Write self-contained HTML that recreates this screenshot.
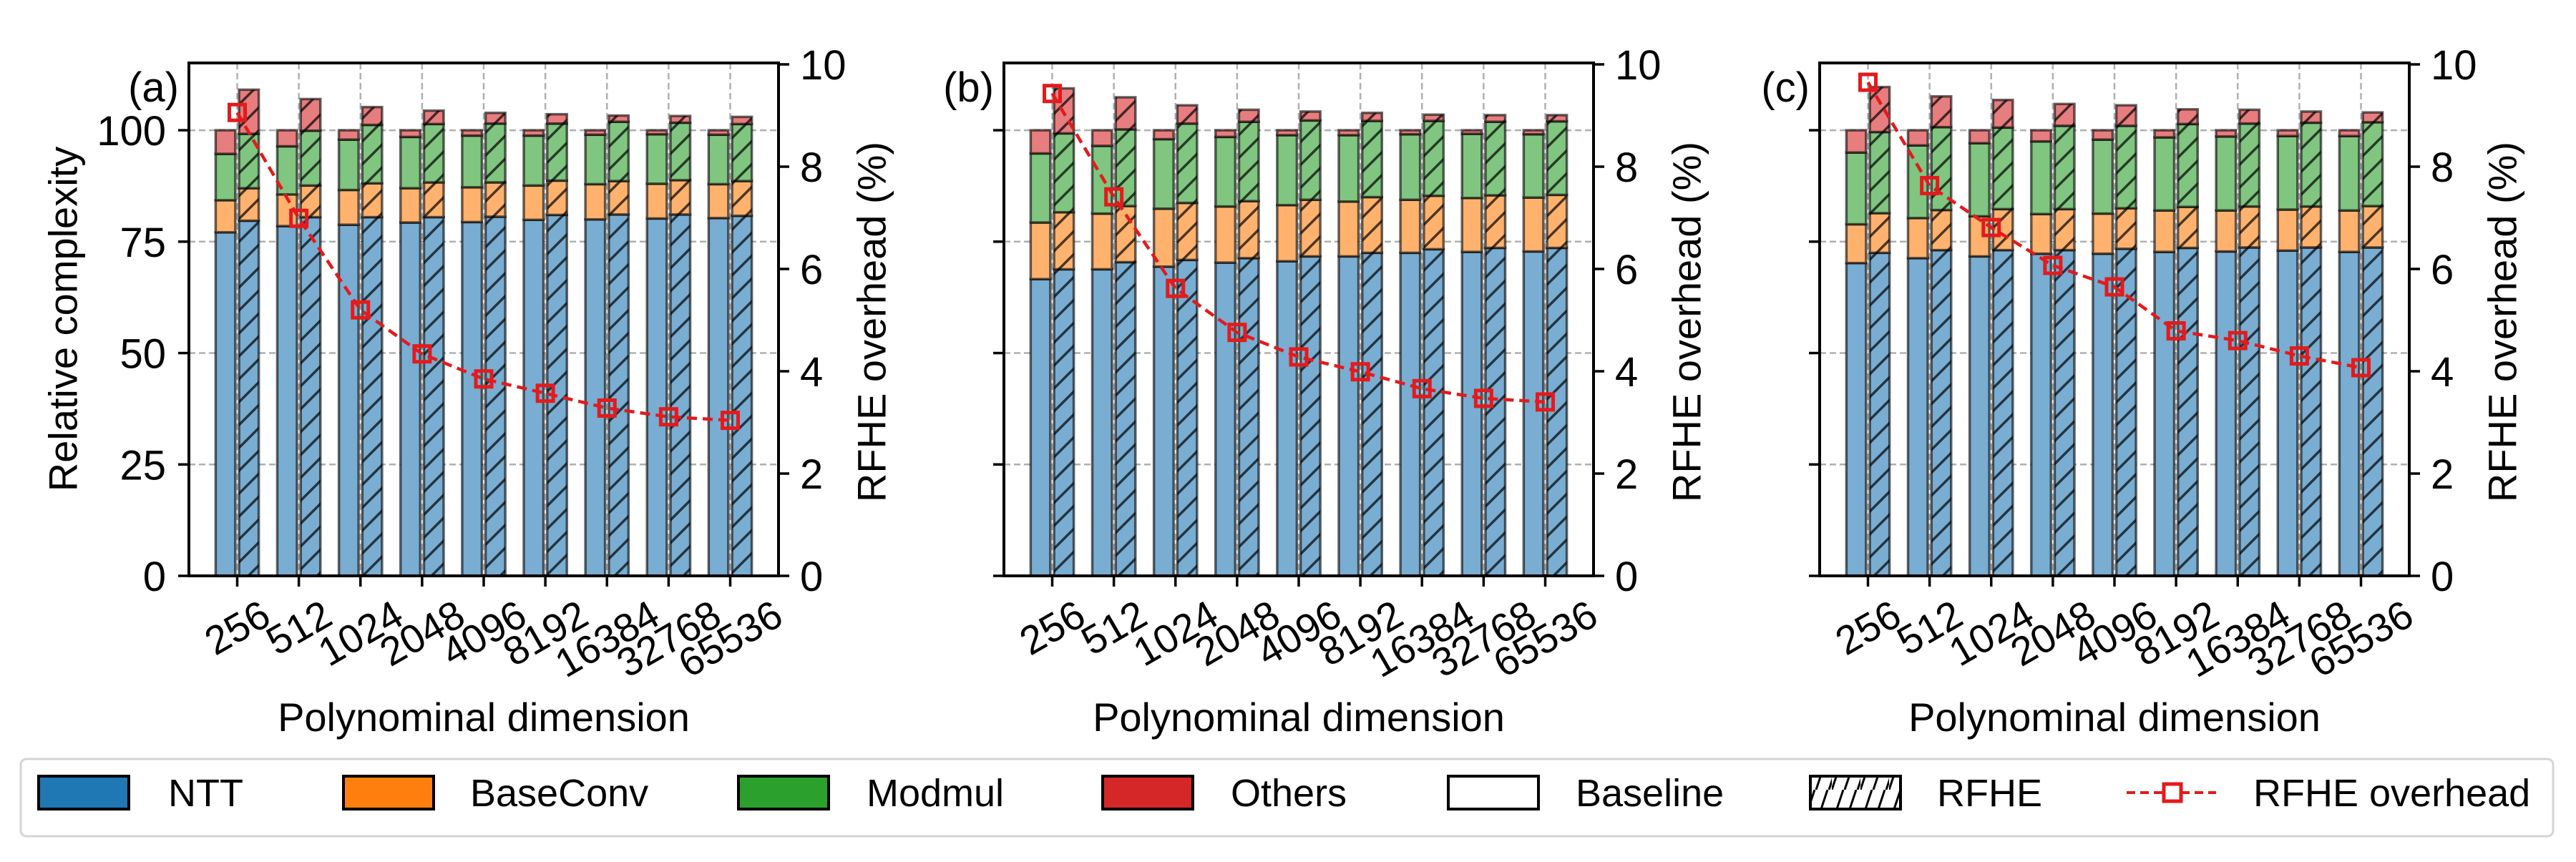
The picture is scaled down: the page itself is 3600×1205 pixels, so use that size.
<!DOCTYPE html>
<html><head><meta charset="utf-8"><style>
html,body{margin:0;padding:0;background:#fff;}
svg text{font-family:"Liberation Sans",sans-serif;fill:#000;}
</style></head><body>
<svg id="chart" xmlns="http://www.w3.org/2000/svg" width="3600" height="1200" viewBox="0 0 3600 1200">
<defs>
<pattern id="hatch" patternUnits="userSpaceOnUse" width="32" height="32">
<path d="M-4,4 L4,-4 M0,32 L32,0 M28,36 L36,28" stroke="rgba(0,0,0,0.7)" stroke-width="3.5"/>
</pattern>
<pattern id="hatchLeg" patternUnits="userSpaceOnUse" width="40" height="48">
<path d="M0,48 L16,0 M18,48 L34,0 M36,48 L52,0" stroke="#000" stroke-width="3"/>
</pattern>
</defs>
<g id="panels"></g>
<g id="legend">
<rect x="29" y="1061" width="3539" height="108" rx="8" fill="#fff" stroke="#d4d4d4" stroke-width="3"/>
<g><rect x="54" y="1085" width="126" height="46" fill="#1f77b4" stroke="#000" stroke-width="4"/><text x="235" y="1127" font-size="54">NTT</text></g>
<g><rect x="480" y="1085" width="126" height="46" fill="#ff7f0e" stroke="#000" stroke-width="4"/><text x="657" y="1127" font-size="54">BaseConv</text></g>
<g><rect x="1032" y="1085" width="126" height="46" fill="#2ca02c" stroke="#000" stroke-width="4"/><text x="1211" y="1127" font-size="54">Modmul</text></g>
<g><rect x="1541" y="1085" width="126" height="46" fill="#d62728" stroke="#000" stroke-width="4"/><text x="1720" y="1127" font-size="54">Others</text></g>
<g><rect x="2024" y="1085" width="126" height="46" fill="#fff" stroke="#000" stroke-width="4"/><text x="2202" y="1127" font-size="54">Baseline</text></g>
<g><rect x="2530" y="1085" width="126" height="46" fill="url(#hatchLeg)" stroke="#000" stroke-width="4"/><text x="2707" y="1127" font-size="54">RFHE</text></g>
<g><line x1="2972" y1="1108" x2="3097" y2="1108" stroke="#e41a1c" stroke-width="4" stroke-dasharray="12,7"/><rect x="3024" y="1096" width="24" height="24" fill="#fff" stroke="#e41a1c" stroke-width="5"/><text x="3149" y="1127" font-size="54">RFHE overhead</text></g>
</g>
</svg>
<script>
const categories = ["256","512","1024","2048","4096","8192","16384","32768","65536"];
const yTicks = [0,25,50,75,100];
const y2Ticks = [0,2,4,6,8,10];
const panelLabels = ["(a)","(b)","(c)"];
// Stack segment heights per bar: NTT, BaseConv, Modmul, Others
const aBaseNTT = [77.1,78.5,78.8,79.3,79.4,79.9,80.0,80.2,80.3];
const aBaseBC  = [7.2,7.1,7.8,7.7,7.8,7.7,7.9,7.8,7.6];
const aBaseMM  = [10.4,10.8,11.3,11.5,11.6,11.2,11.1,11.1,11.1];
const aBaseOT  = [5.3,3.6,2.1,1.5,1.2,1.2,1.0,0.9,1.0];
const aRfNTT = [79.7,80.5,80.5,80.5,80.6,81.0,81.1,81.1,80.8];
const aRfBC  = [7.3,7.1,7.6,7.8,7.7,7.7,7.5,7.7,7.8];
const aRfMM  = [12.2,12.3,13.1,13.1,13.2,12.8,13.3,12.9,12.8];
const aRfOT  = [9.9,7.1,4.0,3.0,2.4,2.1,1.4,1.5,1.6];
const aOver = [9.06,6.99,5.20,4.34,3.85,3.57,3.28,3.11,3.04];
const bBaseNTT = [66.6,68.8,69.4,70.3,70.6,71.7,72.5,72.7,72.8];
const bBaseBC  = [12.7,12.5,13.0,12.6,12.6,12.3,11.9,12.1,12.1];
const bBaseMM  = [15.5,15.2,15.6,15.6,15.7,14.9,14.7,14.4,14.2];
const bBaseOT  = [5.2,3.5,2.0,1.5,1.1,1.1,0.9,0.8,0.9];
const bRfNTT = [68.8,70.4,70.9,71.3,71.7,72.5,73.3,73.6,73.6];
const bRfBC  = [12.8,12.6,12.8,12.8,12.7,12.5,12.0,11.8,11.9];
const bRfMM  = [17.7,17.2,17.8,17.8,17.8,17.1,16.8,16.5,16.5];
const bRfOT  = [10.1,7.2,4.1,2.7,2.0,1.8,1.4,1.5,1.4];
const bOver = [9.43,7.41,5.62,4.76,4.28,3.99,3.66,3.47,3.40];
const cBaseNTT = [70.2,71.3,71.7,72.3,72.3,72.7,72.8,73.0,72.7];
const cBaseBC  = [8.7,9.0,9.0,8.9,9.0,9.3,9.2,9.2,9.3];
const cBaseMM  = [16.1,16.3,16.4,16.3,16.6,16.4,16.6,16.5,16.7];
const cBaseOT  = [5.0,3.4,2.9,2.5,2.1,1.6,1.4,1.3,1.3];
const cRfNTT = [72.5,73.1,73.1,73.1,73.4,73.6,73.7,73.7,73.7];
const cRfBC  = [8.9,9.0,9.2,9.2,9.1,9.2,9.2,9.2,9.3];
const cRfMM  = [18.2,18.6,18.3,18.7,18.5,18.6,18.6,18.8,18.8];
const cRfOT  = [10.1,6.9,6.2,4.9,4.6,3.3,3.1,2.5,2.2];
const cOver = [9.65,7.63,6.81,6.07,5.65,4.79,4.60,4.30,4.07];

const panelsData = [
 {base:[aBaseNTT,aBaseBC,aBaseMM,aBaseOT], rf:[aRfNTT,aRfBC,aRfMM,aRfOT], over:aOver},
 {base:[bBaseNTT,bBaseBC,bBaseMM,bBaseOT], rf:[bRfNTT,bRfBC,bRfMM,bRfOT], over:bOver},
 {base:[cBaseNTT,cBaseBC,cBaseMM,cBaseOT], rf:[cRfNTT,cRfBC,cRfMM,cRfOT], over:cOver}
];
const segNames = ["ntt","baseconv","modmul","others"];
const segColors = ["#79add2","#ffb26e","#80c580","#e67d7e"];
const NS = "http://www.w3.org/2000/svg";
const lefts = [264,1403,2543];
const PW = 824, TOP = 88, BOT = 805, YMAX = 115.1, Y2MAX = 10;
function mk(tag, attrs, parent){const e=document.createElementNS(NS,tag);for(const k in attrs)e.setAttribute(k,attrs[k]);parent.appendChild(e);return e;}
const root = document.getElementById('panels');
panelsData.forEach((pd,p)=>{
  const L = lefts[p], R = L+PW;
  const step = (PW-135)/(categories.length-1);
  const xs = i => L+67.5+i*step;
  const ys = v => BOT-(v/YMAX)*(BOT-TOP);
  const y2s = v => BOT-(v/Y2MAX)*(BOT-TOP-2);
  const g = mk('g',{},root);
  
  
  yTicks.forEach(t=>{const l=mk('line',{x1:L,x2:R,y1:ys(t),y2:ys(t),stroke:'#b0b0b0','stroke-width':2.5,'stroke-dasharray':'9,5'},g);
    
    });
  categories.forEach((c,i)=>{const l=mk('line',{x1:xs(i),x2:xs(i),y1:TOP,y2:BOT,stroke:'#b0b0b0','stroke-width':2.5,'stroke-dasharray':'9,5'},g);
    
    });
  const bw = 0.32*step, off = 0.19*step;
  categories.forEach((c,i)=>{
    [['baseline',pd.base,-off],['rfhe',pd.rf,off]].forEach(([kind,arr,o])=>{
      let cum=0;
      arr.forEach((series,s)=>{
        const v=series[i]; const y0=ys(cum), y1=ys(cum+v); cum+=v;
        const r=mk('rect',{x:xs(i)+o-bw/2,y:y1,width:bw,height:y0-y1,fill:segColors[s],stroke:'rgba(0,0,0,0.6)','stroke-width':3.5},g);
        
        
        if(kind==='rfhe'){const h=mk('rect',{x:xs(i)+o-bw/2,y:y1,width:bw,height:y0-y1,fill:'url(#hatch)'},g);
          
          }
      });
    });
  });
  const pts = pd.over.map((v,i)=>xs(i)+','+y2s(v)).join(' ');
  const pl=mk('polyline',{points:pts,fill:'none',stroke:'#e41a1c','stroke-width':4.5,'stroke-dasharray':'14,8'},g);
  
  
  pd.over.forEach((v,i)=>{const m=mk('rect',{x:xs(i)-11,y:y2s(v)-11,width:22,height:22,fill:'none',stroke:'#e41a1c','stroke-width':5},g);
    
    });
  const fr=mk('rect',{x:L,y:TOP,width:PW,height:BOT-TOP,fill:'none',stroke:'#000','stroke-width':4},g);
  
  
  yTicks.forEach(t=>{const l=mk('line',{x1:L-15,x2:L,y1:ys(t),y2:ys(t),stroke:'#000','stroke-width':3.5},g);
    
    
    if(p===0){const tx=mk('text',{x:232,y:ys(t)+21,'font-size':58,'text-anchor':'end'},g);tx.textContent=t;
      
      }});
  y2Ticks.forEach(t=>{const l=mk('line',{x1:R,x2:R+15,y1:y2s(t),y2:y2s(t),stroke:'#000','stroke-width':3.5},g);
    
    
    const tx=mk('text',{x:R+30,y:y2s(t)+21,'font-size':58},g);tx.textContent=t;
    
    });
  categories.forEach((c,i)=>{const l=mk('line',{x1:xs(i),x2:xs(i),y1:BOT,y2:BOT+15,stroke:'#000','stroke-width':3.5},g);
    
    
    const tx=mk('text',{'font-size':56,'text-anchor':'middle','dominant-baseline':'central'},g);tx.textContent=c;
    
    
    const w=tx.getComputedTextLength(); const hh=(w*0.5+41*0.866)/2; const cy=836+hh;
    tx.setAttribute('x',xs(i));tx.setAttribute('y',cy);
    tx.setAttribute('transform','rotate(-30 '+xs(i)+' '+cy+')');});
  const xl=mk('text',{x:L+PW/2,y:1022,'font-size':56,'text-anchor':'middle'},g);xl.textContent='Polynominal dimension';
  
  
  const yl2=mk('text',{x:R+130,y:450,'font-size':56,'text-anchor':'middle','dominant-baseline':'central',transform:'rotate(-90 '+(R+130)+' 450)'},g);yl2.textContent='RFHE overhead (%)';
  
  
  const pl2=mk('text',{x:L-14,y:142,'font-size':58,'text-anchor':'end'},g);pl2.textContent=panelLabels[p];
  
  
  if(p===0){const yl=mk('text',{x:88,y:446,'font-size':56,'text-anchor':'middle','dominant-baseline':'central',transform:'rotate(-90 88 446)'},g);yl.textContent='Relative complexity';
    
    }
});
</script>
</body></html>
